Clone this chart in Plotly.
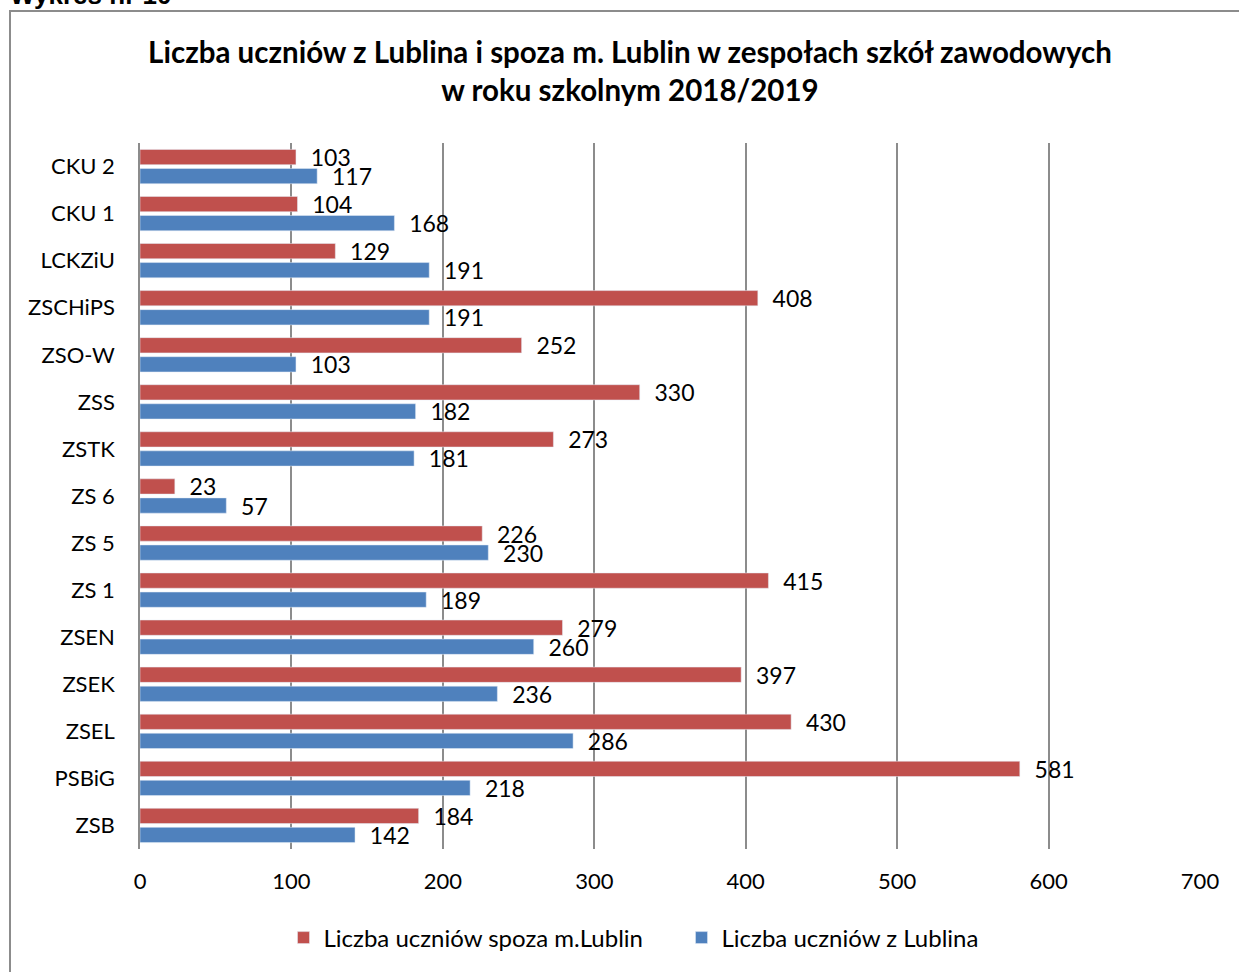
import plotly.graph_objects as go

categories = ["CKU 2", "CKU 1", "LCKZiU", "ZSCHiPS", "ZSO-W", "ZSS", "ZSTK", "ZS 6",
              "ZS 5", "ZS 1", "ZSEN", "ZSEK", "ZSEL", "PSBiG", "ZSB"]
spoza = [103, 104, 129, 408, 252, 330, 273, 23, 226, 415, 279, 397, 430, 581, 184]
z_lublina = [117, 168, 191, 191, 103, 182, 181, 57, 230, 189, 260, 236, 286, 218, 142]
x_ticks = [0, 100, 200, 300, 400, 500, 600, 700]

FONT = "Lato"
W, H = 1239, 972
L, R, T, B = 140, 39, 143, 123
pw, ph = W - L - R, H - T - B

def px_x(px):
    return (px - L) / pw

def px_y(py):
    return (H - B - py) / ph

fig = go.Figure()
fig.add_trace(go.Bar(
    y=categories, x=spoza, orientation="h", name="Liczba uczniów spoza m.Lublin",
    marker=dict(color="#C0504D"),
    text=spoza, texttemplate="\u00a0\u00a0%{x}", textposition="outside", constraintext="none",
    textfont=dict(family=FONT, size=23, color="#000000"), cliponaxis=False,
))
fig.add_trace(go.Bar(
    y=categories, x=z_lublina, orientation="h", name="Liczba uczniów z Lublina",
    marker=dict(color="#4F81BD"),
    text=z_lublina, texttemplate="\u00a0\u00a0%{x}", textposition="outside", constraintext="none",
    textfont=dict(family=FONT, size=23, color="#000000"), cliponaxis=False,
))

fig.update_layout(
    width=W, height=H,
    margin=dict(l=L, r=R, t=T, b=B),
    paper_bgcolor="white", plot_bgcolor="white",
    barmode="group", bargap=0.19, bargroupgap=0.2,
    font=dict(family=FONT, size=22, color="#000000"),
    title=dict(
        text="Liczba uczniów z Lublina i spoza m. Lublin w zespołach szkół zawodowych<br>w roku szkolnym 2018/2019",
        x=630 / W, xanchor="center", xref="container",
        y=1 - 63 / H, yanchor="middle", yref="container",
        font=dict(family=FONT, size=29.5, color="#000000", weight="bold"),
    ),
    xaxis=dict(
        range=[0, 700], tickvals=x_ticks, showgrid=True, gridcolor="#8C8C8C", gridwidth=1.5,
        zeroline=False, showline=False, ticks="", ticklabelstandoff=17,
        tickfont=dict(family=FONT, size=22, color="#000000"),
    ),
    yaxis=dict(
        categoryorder="array", categoryarray=categories, autorange="reversed",
        showgrid=False, zeroline=False, showline=True, linecolor="#8C8C8C", linewidth=1.5,
        ticks="", ticklabelstandoff=19,
        tickfont=dict(family=FONT, size=22, color="#000000"),
    ),
    legend=dict(
        orientation="h", x=px_x(681.5), xanchor="center", y=px_y(938), yanchor="middle",
        font=dict(family=FONT, size=24, color="#000000"),
        traceorder="normal", entrywidth=353, entrywidthmode="pixels",
    ),
    showlegend=True,
)

# chart frame
fig.add_shape(type="rect", xref="paper", yref="paper",
              x0=px_x(10), x1=px_x(1260), y0=px_y(1000), y1=px_y(11),
              line=dict(color="#8C8C8C", width=2), fillcolor="rgba(0,0,0,0)", layer="below")

fig.add_annotation(text="<b>Wykres nr 10</b>", xref="paper", yref="paper",
                   x=px_x(8), xanchor="left", y=px_y(-5), yanchor="middle",
                   showarrow=False, font=dict(family="Liberation Sans", size=26, color="#000000"))

fig.write_html("out.html", config={"displayModeBar": False},
               post_script="document.body.style.margin='0px';")
